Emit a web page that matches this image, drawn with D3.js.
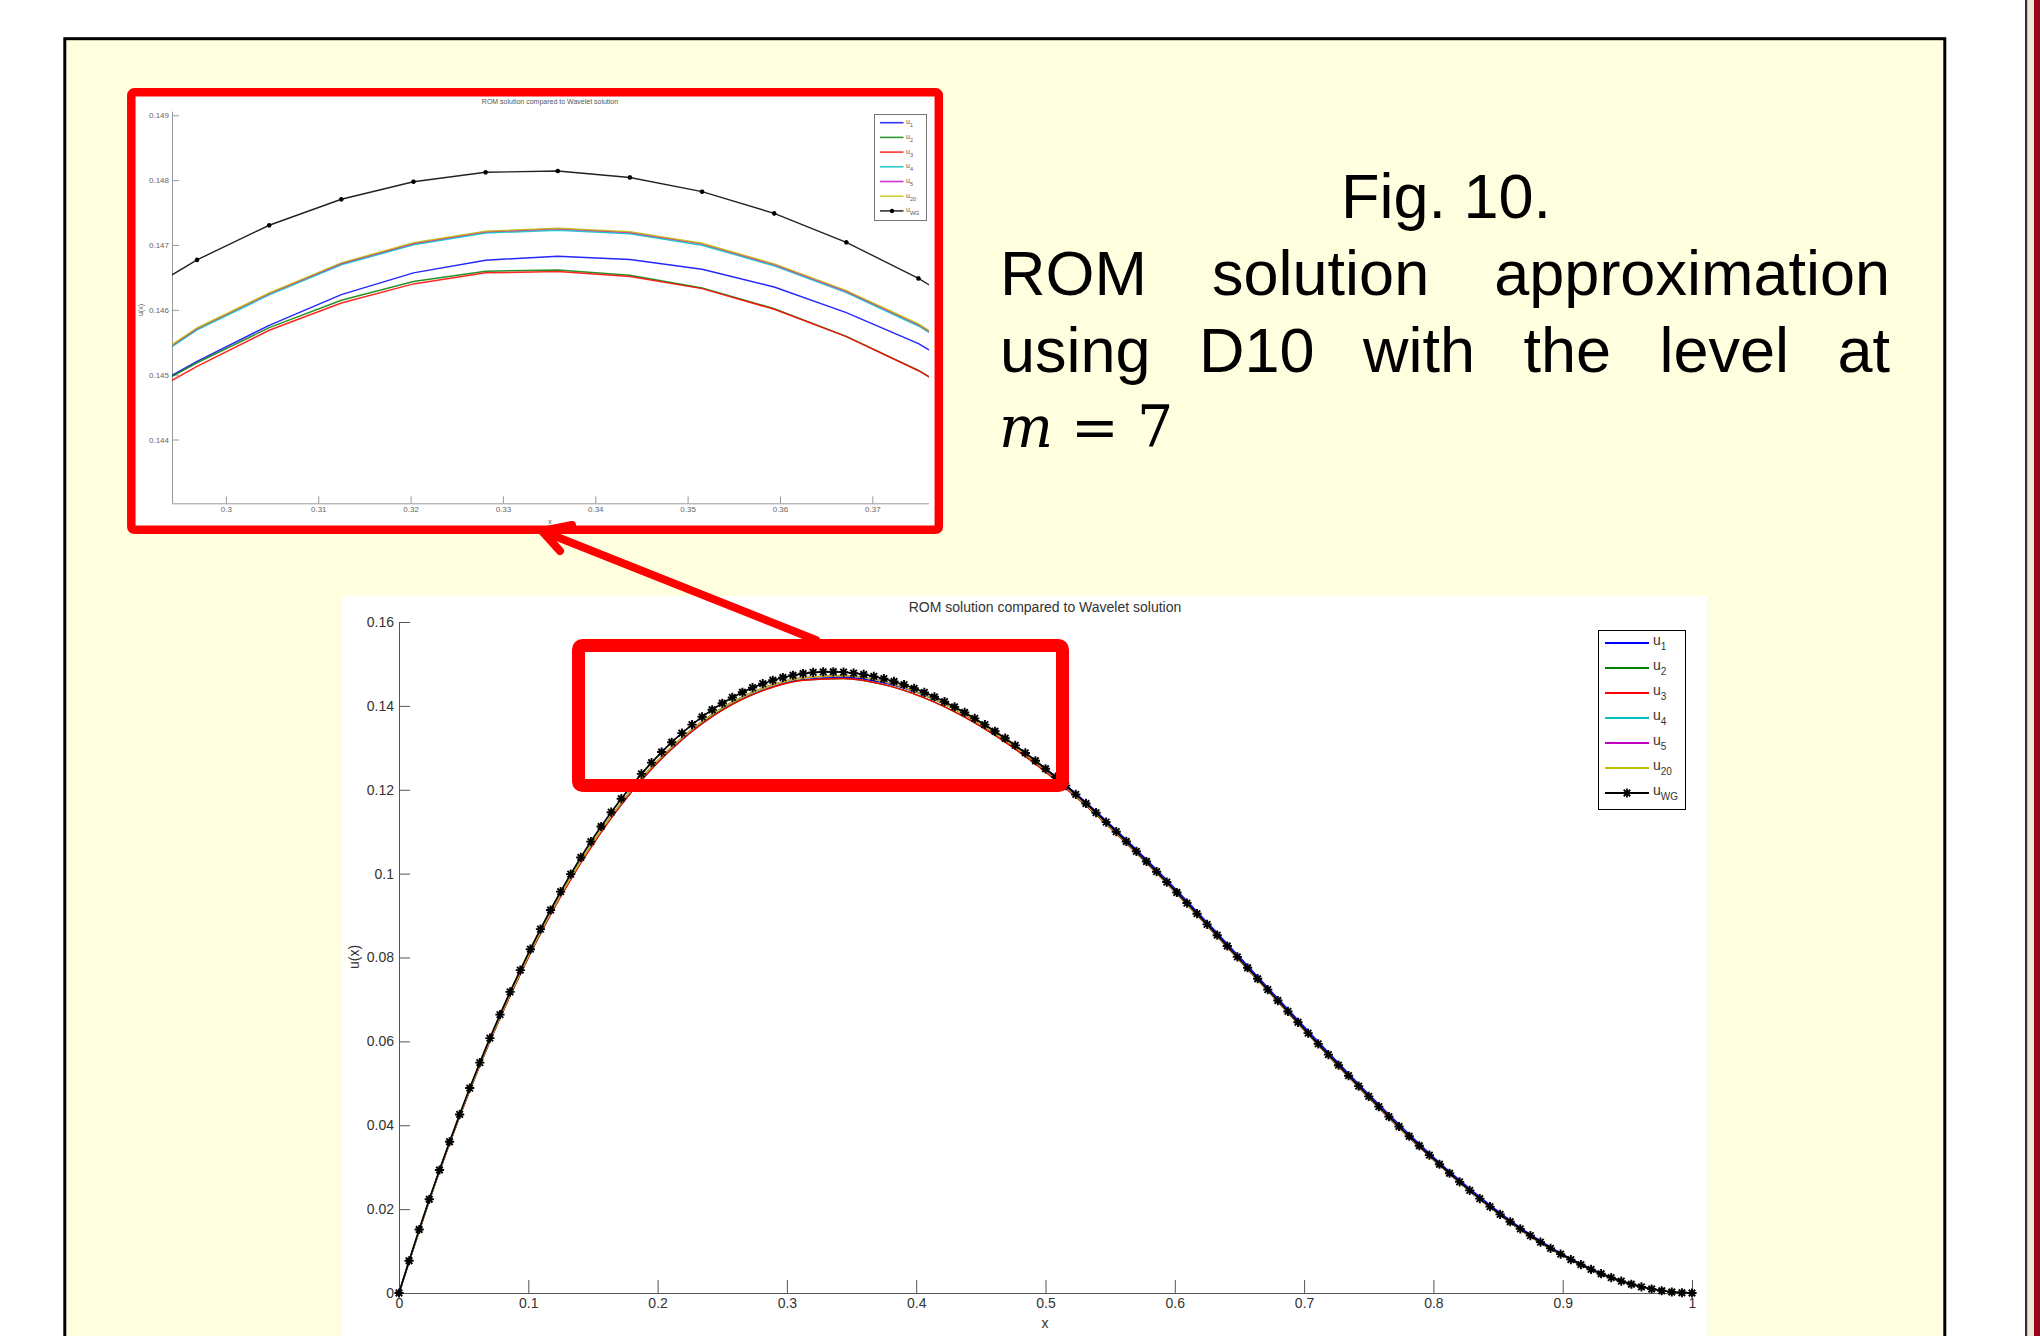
<!DOCTYPE html>
<html>
<head>
<meta charset="utf-8">
<script src="https://cdn.jsdelivr.net/npm/d3@7"></script>
<style>
  body { margin: 0; background: #fff; }
  svg { display: block; }
  text { font-family: "Liberation Sans", Arial, sans-serif; }
</style>
</head>
<body>
<svg id="chart" width="2040" height="1336"></svg>
<script>
// ---- data ----
// wavelet-Galerkin solution, 129 nodes (level m = 7)
const wgX = [0, 0.0078, 0.0156, 0.0234, 0.0313, 0.0391, 0.0469, 0.0547, 0.0625, 0.0703, 0.0781, 0.0859, 0.0938, 0.1016, 0.1094, 0.1172,
   0.125, 0.1328, 0.1406, 0.1484, 0.1563, 0.1641, 0.1719, 0.1797, 0.1875, 0.1953, 0.2031, 0.2109, 0.2188, 0.2266, 0.2344, 0.2422,
   0.25, 0.2578, 0.2656, 0.2734, 0.2813, 0.2891, 0.2969, 0.3047, 0.3125, 0.3203, 0.3281, 0.3359, 0.3438, 0.3516, 0.3594, 0.3672,
   0.375, 0.3828, 0.3906, 0.3984, 0.4063, 0.4141, 0.4219, 0.4297, 0.4375, 0.4453, 0.4531, 0.4609, 0.4688, 0.4766, 0.4844, 0.4922,
   0.5, 0.5078, 0.5156, 0.5234, 0.5313, 0.5391, 0.5469, 0.5547, 0.5625, 0.5703, 0.5781, 0.5859, 0.5938, 0.6016, 0.6094, 0.6172,
   0.625, 0.6328, 0.6406, 0.6484, 0.6563, 0.6641, 0.6719, 0.6797, 0.6875, 0.6953, 0.7031, 0.7109, 0.7188, 0.7266, 0.7344, 0.7422,
   0.75, 0.7578, 0.7656, 0.7734, 0.7813, 0.7891, 0.7969, 0.8047, 0.8125, 0.8203, 0.8281, 0.8359, 0.8438, 0.8516, 0.8594, 0.8672,
   0.875, 0.8828, 0.8906, 0.8984, 0.9063, 0.9141, 0.9219, 0.9297, 0.9375, 0.9453, 0.9531, 0.9609, 0.9688, 0.9766, 0.9844, 0.9922, 1];
const uWG = [0, 0.00769, 0.01514, 0.02235, 0.02933, 0.03607, 0.04258, 0.04887, 0.05493, 0.06077, 0.06639, 0.07180, 0.07700, 0.08198, 0.08676, 0.09133,
   0.09570, 0.09988, 0.10386, 0.10764, 0.11124, 0.11465, 0.11787, 0.12091, 0.12378, 0.12647, 0.12899, 0.13133, 0.13351, 0.13553, 0.13739, 0.13908,
   0.14063, 0.14201, 0.14325, 0.14435, 0.14529, 0.14610, 0.14677, 0.14730, 0.14771, 0.14798, 0.14812, 0.14814, 0.14804, 0.14782, 0.14749, 0.14704,
   0.14648, 0.14582, 0.14505, 0.14419, 0.14322, 0.14216, 0.14100, 0.13976, 0.13843, 0.13701, 0.13552, 0.13394, 0.13229, 0.13057, 0.12878, 0.12692,
   0.12500, 0.12302, 0.12098, 0.11888, 0.11673, 0.11453, 0.11229, 0.11000, 0.10767, 0.10530, 0.10289, 0.10046, 0.09799, 0.09550, 0.09298, 0.09045,
   0.08789, 0.08532, 0.08274, 0.08014, 0.07755, 0.07494, 0.07234, 0.06974, 0.06714, 0.06455, 0.06197, 0.05940, 0.05685, 0.05432, 0.05182, 0.04933,
   0.04688, 0.04445, 0.04206, 0.03970, 0.03738, 0.03511, 0.03288, 0.03070, 0.02856, 0.02649, 0.02446, 0.02250, 0.02060, 0.01876, 0.01699, 0.01530,
   0.01367, 0.01212, 0.01065, 0.00927, 0.00797, 0.00675, 0.00563, 0.00460, 0.00366, 0.00283, 0.00209, 0.00147, 0.00095, 0.00054, 0.00024, 0.00006, 0];

// ROM solutions, sampled every 1/32 for the full view
const romX = [0, 0.0313, 0.0625, 0.0938, 0.125, 0.1563, 0.1875, 0.2188, 0.25, 0.2813, 0.3125, 0.3438, 0.375, 0.4063, 0.4375, 0.4688,
   0.5, 0.5313, 0.5625, 0.5938, 0.625, 0.6563, 0.6875, 0.7188, 0.75, 0.7813, 0.8125, 0.8438, 0.875, 0.9063, 0.9375, 0.9688, 1];
const u1 = [0, 0.02903, 0.05433, 0.07610, 0.09460, 0.10994, 0.12228, 0.13191, 0.13903, 0.14369, 0.14624, 0.14677, 0.14547, 0.14252, 0.13803, 0.13219,
   0.12510, 0.11703, 0.10807, 0.09849, 0.08839, 0.07805, 0.06764, 0.05735, 0.04738, 0.03788, 0.02896, 0.02100, 0.01397, 0.00817, 0.00376, 0.00100, 0];
const u2 = [0, 0.02903, 0.05433, 0.07610, 0.09460, 0.10994, 0.12238, 0.13201, 0.13903, 0.14369, 0.14615, 0.14653, 0.14506, 0.14192, 0.13733, 0.13139,
   0.12430, 0.11623, 0.10727, 0.09769, 0.08759, 0.07725, 0.06684, 0.05655, 0.04658, 0.03708, 0.02836, 0.02040, 0.01347, 0.00787, 0.00356, 0.00095, 0];
const u3 = [0, 0.02900, 0.05428, 0.07604, 0.09453, 0.10986, 0.12230, 0.13193, 0.13896, 0.14363, 0.14611, 0.14651, 0.14506, 0.14190, 0.13731, 0.13136,
   0.12426, 0.11618, 0.10722, 0.09764, 0.08754, 0.07720, 0.06680, 0.05651, 0.04655, 0.03705, 0.02833, 0.02038, 0.01345, 0.00786, 0.00355, 0.00094, 0];
const u4 = [0, 0.02912, 0.05451, 0.07637, 0.09486, 0.11030, 0.12274, 0.13237, 0.13949, 0.14418, 0.14668, 0.14716, 0.14574, 0.14259, 0.13790, 0.13187,
   0.12468, 0.11641, 0.10745, 0.09777, 0.08767, 0.07733, 0.06692, 0.05663, 0.04666, 0.03716, 0.02834, 0.02044, 0.01356, 0.00786, 0.00360, 0.00095, 0];
const u5 = [0, 0.02912, 0.05452, 0.07639, 0.09489, 0.11033, 0.12277, 0.13240, 0.13952, 0.14421, 0.14671, 0.14718, 0.14576, 0.14261, 0.13792, 0.13188,
   0.12469, 0.11642, 0.10746, 0.09778, 0.08768, 0.07734, 0.06693, 0.05664, 0.04667, 0.03717, 0.02835, 0.02045, 0.01357, 0.00787, 0.00361, 0.00095, 0];
const u20 = [0, 0.02913, 0.05453, 0.07640, 0.09490, 0.11034, 0.12278, 0.13241, 0.13953, 0.14422, 0.14672, 0.14719, 0.14577, 0.14262, 0.13793, 0.13189,
   0.12470, 0.11643, 0.10747, 0.09779, 0.08769, 0.07735, 0.06694, 0.05665, 0.04668, 0.03718, 0.02836, 0.02045, 0.01357, 0.00787, 0.00361, 0.00095, 0];

// zoomed view around the peak (nodes 37..49)
const zoomX = [0.289063, 0.296875, 0.304688, 0.3125, 0.320313, 0.328125, 0.335938, 0.34375, 0.351563, 0.359375, 0.367188, 0.375, 0.382813];
const zWG = [0.146101, 0.146771, 0.147304, 0.147705, 0.147976, 0.148121, 0.148141, 0.148041, 0.147822, 0.147488, 0.147041, 0.146484, 0.145821];
const z1 = [0.144581, 0.145205, 0.145761, 0.146235, 0.146570, 0.146765, 0.146827, 0.146775, 0.146626, 0.146353, 0.145957, 0.145478, 0.144818];
const z2 = [0.144574, 0.145184, 0.145725, 0.146147, 0.146436, 0.146595, 0.146616, 0.146533, 0.146338, 0.146019, 0.145591, 0.145066, 0.144407];
const z3 = [0.144501, 0.145128, 0.145684, 0.146106, 0.146400, 0.146570, 0.146590, 0.146513, 0.146327, 0.146008, 0.145586, 0.145061, 0.144401];
const z4 = [0.144945, 0.145690, 0.146230, 0.146694, 0.147003, 0.147183, 0.147229, 0.147173, 0.146997, 0.146678, 0.146266, 0.145751, 0.145063];
const z5 = [0.144965, 0.145710, 0.146250, 0.146714, 0.147023, 0.147203, 0.147249, 0.147193, 0.147017, 0.146698, 0.146286, 0.145771, 0.145083];
const z20 = [0.144975, 0.145720, 0.146260, 0.146724, 0.147033, 0.147213, 0.147259, 0.147203, 0.147027, 0.146708, 0.146296, 0.145781, 0.145093];

const legendNames = [["u", "1"], ["u", "2"], ["u", "3"], ["u", "4"], ["u", "5"], ["u", "20"], ["u", "WG"]];
const mainXTicks = [0, 0.1, 0.2, 0.3, 0.4, 0.5, 0.6, 0.7, 0.8, 0.9, 1];
const mainYTicks = [0, 0.02, 0.04, 0.06, 0.08, 0.1, 0.12, 0.14, 0.16];
const zoomXTicks = [0.3, 0.31, 0.32, 0.33, 0.34, 0.35, 0.36, 0.37];
const zoomYTicks = [0.144, 0.145, 0.146, 0.147, 0.148, 0.149];
const plotTitle = "ROM solution compared to Wavelet solution";
const captionLines = [
   ["ROM", "solution", "approximation"],
   ["using", "D10", "with", "the", "level", "at"]
];

const colors = ["#0000ff", "#008000", "#ff0000", "#00bfbf", "#bf00bf", "#bfbf00", "#000000"];
const fmt = d3.format("~g");

const svg = d3.select("#chart");

// ---- page frame ----
svg.append("rect").attr("width", 2040).attr("height", 1336).attr("fill", "#fff");
svg.append("rect")
   .attr("x", 64.8).attr("y", 38.7)
   .attr("width", 1880).attr("height", 1400)
   .attr("fill", "#ffffe0")
   .attr("stroke", "#000")
   .attr("stroke-width", 3);
svg.append("rect").attr("x", 2025).attr("y", 0).attr("width", 2.5).attr("height", 1336).attr("fill", "#333");
svg.append("rect").attr("x", 2027.5).attr("y", 0).attr("width", 6.5).attr("height", 1336).attr("fill", "#ece6da");
svg.append("rect").attr("x", 2034).attr("y", 0).attr("width", 6).attr("height", 1336).attr("fill", "#990019");

function asterisk(r) {
   const d = r * 0.7071;
   return `M${-r},0H${r}M0,${-r}V${r}M${-d},${-d}L${d},${d}M${-d},${d}L${d},${-d}`;
}

function styleAxis(g, size, lineColor, textColor) {
   g.attr("font-family", null).attr("font-size", null);
   g.select(".domain").attr("stroke", lineColor);
   g.selectAll(".tick line").attr("stroke", lineColor);
   g.selectAll(".tick text").attr("font-size", size).attr("fill", textColor);
}

// ---- full view ----
svg.append("rect")
   .attr("x", 342).attr("y", 596)
   .attr("width", 1365).attr("height", 760)
   .attr("fill", "#fff");

const xMain = d3.scaleLinear().domain([0, 1]).range([399, 1692]);
const yMain = d3.scaleLinear().domain([0, 0.16]).range([1293, 622]);

const xAxisMain = svg.append("g")
   .attr("transform", "translate(0,1293)")
   .call(d3.axisBottom(xMain).tickValues(mainXTicks).tickFormat(fmt)
      .tickSizeInner(-13).tickSizeOuter(0).tickPadding(5));
styleAxis(xAxisMain, 14, "#555", "#333");

const yAxisMain = svg.append("g")
   .attr("transform", "translate(399,0)")
   .call(d3.axisLeft(yMain).tickValues(mainYTicks).tickFormat(fmt)
      .tickSizeInner(-11).tickSizeOuter(0).tickPadding(5));
styleAxis(yAxisMain, 14, "#555", "#333");

svg.append("text").attr("x", 1045).attr("y", 612).attr("text-anchor", "middle")
   .attr("font-size", 14).attr("fill", "#333").text(plotTitle);
svg.append("text").attr("x", 1045).attr("y", 1328).attr("text-anchor", "middle")
   .attr("font-size", 14).attr("fill", "#333").text("x");
svg.append("text").attr("transform", "translate(359,957) rotate(-90)").attr("text-anchor", "middle")
   .attr("font-size", 14).attr("fill", "#333").text("u(x)");

const romLine = d3.line()
   .x(d => xMain(d[0]))
   .y(d => yMain(d[1]))
   .curve(d3.curveMonotoneX);

const romSeries = [u1, u2, u3, u4, u5, u20];
romSeries.forEach((s, i) => {
   svg.append("path")
      .attr("d", romLine(d3.zip(romX, s)))
      .attr("fill", "none")
      .attr("stroke", colors[i])
      .attr("stroke-width", 1.4);
});

const wgPts = d3.zip(wgX, uWG);
svg.append("path")
   .attr("d", d3.line().x(d => xMain(d[0])).y(d => yMain(d[1]))(wgPts))
   .attr("fill", "none")
   .attr("stroke", "#000")
   .attr("stroke-width", 1.7);
svg.append("g")
   .selectAll("path")
   .data(wgPts)
   .join("path")
   .attr("transform", d => `translate(${xMain(d[0])},${yMain(d[1])})`)
   .attr("d", asterisk(4.6))
   .attr("stroke", "#000")
   .attr("stroke-width", 1.9)
   .attr("fill", "none");

// legend
const legMain = svg.append("g");
legMain.append("rect")
   .attr("x", 1598.5).attr("y", 630.5)
   .attr("width", 87).attr("height", 179)
   .attr("fill", "#fff").attr("stroke", "#000").attr("stroke-width", 1);
legendNames.forEach((nm, i) => {
   const y = 643 + i * 25;
   legMain.append("line").attr("x1", 1605).attr("x2", 1649).attr("y1", y).attr("y2", y)
      .attr("stroke", colors[i]).attr("stroke-width", 2);
   if (i === legendNames.length - 1) {
      legMain.append("path").attr("transform", `translate(1627,${y})`).attr("d", asterisk(4.6))
         .attr("stroke", "#000").attr("stroke-width", 1.8);
   }
   const t = legMain.append("text").attr("x", 1653).attr("y", y + 2).attr("font-size", 14).attr("fill", "#333");
   t.append("tspan").text(nm[0]);
   t.append("tspan").attr("font-size", 10).attr("dy", 5).text(nm[1]);
});

// ---- zoomed view (inset) ----
svg.append("rect")
   .attr("x", 131.5).attr("y", 92.5)
   .attr("width", 807).attr("height", 437)
   .attr("fill", "#fff");

const xZoom = d3.scaleLinear().domain([0.3, 0.37]).range([225.9, 872.3]);
const yZoom = d3.scaleLinear().domain([0.144, 0.149]).range([439.5, 115.3]);
const zLeft = 172, zRight = 929, zTop = 111.7, zBottom = 503.3;

svg.append("defs").append("clipPath")
   .attr("id", "zoomclip")
   .append("rect")
   .attr("x", zLeft).attr("y", zTop)
   .attr("width", zRight - zLeft).attr("height", zBottom - zTop);

const xAxisZoom = svg.append("g")
   .attr("transform", `translate(0,${zBottom})`)
   .call(d3.axisBottom(xZoom).tickValues(zoomXTicks).tickFormat(fmt)
      .tickSizeInner(-7).tickSizeOuter(0).tickPadding(3));
xAxisZoom.select(".domain").attr("d", `M${zLeft},0.5H${zRight}`);
styleAxis(xAxisZoom, 8, "#999", "#666");

const yAxisZoom = svg.append("g")
   .attr("transform", `translate(${zLeft},0)`)
   .call(d3.axisLeft(yZoom).tickValues(zoomYTicks).tickFormat(fmt)
      .tickSizeInner(-7).tickSizeOuter(0).tickPadding(3));
yAxisZoom.select(".domain").attr("d", `M0.5,${zTop}V${zBottom}`);
styleAxis(yAxisZoom, 8, "#999", "#666");

svg.append("text").attr("x", 550).attr("y", 104).attr("text-anchor", "middle")
   .attr("font-size", 7).attr("fill", "#555").text(plotTitle);
svg.append("text").attr("x", 550).attr("y", 524).attr("text-anchor", "middle")
   .attr("font-size", 7).attr("fill", "#555").text("x");
svg.append("text").attr("transform", "translate(143,310) rotate(-90)").attr("text-anchor", "middle")
   .attr("font-size", 7).attr("fill", "#555").text("u(x)");

const zoomLine = d3.line().x(d => xZoom(d[0])).y(d => yZoom(d[1]));
const zoomPlot = svg.append("g").attr("clip-path", "url(#zoomclip)");
[z1, z2, z3, z4, z5, z20].forEach((s, i) => {
   zoomPlot.append("path")
      .attr("d", zoomLine(d3.zip(zoomX, s)))
      .attr("fill", "none")
      .attr("stroke", colors[i])
      .attr("stroke-width", 1.5)
      .attr("stroke-opacity", 0.85);
});
const zPts = d3.zip(zoomX, zWG);
zoomPlot.append("path")
   .attr("d", zoomLine(zPts))
   .attr("fill", "none")
   .attr("stroke", "#222")
   .attr("stroke-width", 1.4);
zoomPlot.append("g")
   .selectAll("path")
   .data(zPts)
   .join("path")
   .attr("transform", d => `translate(${xZoom(d[0])},${yZoom(d[1])})`)
   .attr("d", asterisk(2.3))
   .attr("stroke", "#000")
   .attr("stroke-width", 1.4);

const legZoom = svg.append("g");
legZoom.append("rect")
   .attr("x", 874.5).attr("y", 114.5)
   .attr("width", 52).attr("height", 106)
   .attr("fill", "#fff").attr("stroke", "#777").attr("stroke-width", 1);
legendNames.forEach((nm, i) => {
   const y = 122.7 + i * 14.7;
   legZoom.append("line").attr("x1", 880).attr("x2", 903.5).attr("y1", y).attr("y2", y)
      .attr("stroke", colors[i]).attr("stroke-width", 1.6).attr("stroke-opacity", 0.8);
   if (i === legendNames.length - 1) {
      legZoom.append("path").attr("transform", `translate(892,${y})`).attr("d", asterisk(2.2))
         .attr("stroke", "#000").attr("stroke-width", 1.3);
   }
   const t = legZoom.append("text").attr("x", 906).attr("y", y + 1.5).attr("font-size", 7).attr("fill", "#555");
   t.append("tspan").text(nm[0]);
   t.append("tspan").attr("font-size", 5.5).attr("dy", 3).text(nm[1]);
});

// inset frame
svg.append("rect")
   .attr("x", 131.3).attr("y", 92.3)
   .attr("width", 807.5).attr("height", 437.5)
   .attr("rx", 3)
   .attr("fill", "none")
   .attr("stroke", "#ff0000")
   .attr("stroke-width", 8.5);

// ---- highlight box + arrow ----
svg.append("rect")
   .attr("x", 578.5).attr("y", 645.5)
   .attr("width", 484).attr("height", 140)
   .attr("rx", 4)
   .attr("fill", "none")
   .attr("stroke", "#ff0000")
   .attr("stroke-width", 13);

const arrow = svg.append("g")
   .attr("stroke", "#ff0000")
   .attr("stroke-width", 8)
   .attr("stroke-linecap", "round")
   .attr("fill", "none");
arrow.append("line").attr("x1", 816).attr("y1", 640).attr("x2", 542).attr("y2", 531);
arrow.append("polyline").attr("points", "572,525 542,531 560,551").attr("stroke-linejoin", "round");

// ---- caption ----
const caption = svg.append("g").attr("fill", "#000");
caption.append("text")
   .attr("x", 1446).attr("y", 218)
   .attr("text-anchor", "middle")
   .attr("font-size", 63)
   .text("Fig. 10.");

function justifyLine(words, y, x0, x1) {
   const nodes = words.map(w => caption.append("text").attr("y", y).attr("font-size", 63).text(w));
   const widths = nodes.map(n => n.node().getComputedTextLength());
   const gap = (x1 - x0 - d3.sum(widths)) / (words.length - 1);
   let x = x0;
   nodes.forEach((n, i) => {
      n.attr("x", x);
      x += widths[i] + gap;
   });
}
justifyLine(captionLines[0], 295, 1000, 1890);
justifyLine(captionLines[1], 372, 1000, 1890);

// "m = 7" set as math
const mathFont = "'DejaVu Serif', 'Liberation Serif', serif";
caption.append("text")
   .attr("x", 999).attr("y", 447)
   .attr("font-size", 57)
   .style("font-family", mathFont)
   .style("font-style", "italic")
   .text("m");
caption.append("text")
   .attr("x", 1071).attr("y", 447)
   .attr("font-size", 57)
   .style("font-family", mathFont)
   .text("=");
caption.append("text")
   .attr("x", 1137).attr("y", 447)
   .attr("font-size", 57)
   .style("font-family", mathFont)
   .text("7");
</script>
</body>
</html>
